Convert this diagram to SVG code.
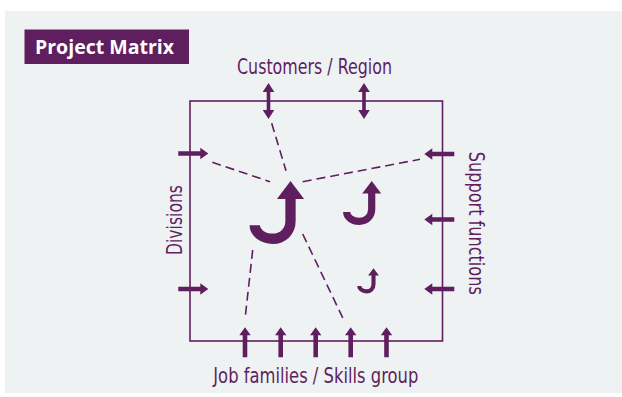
<svg xmlns="http://www.w3.org/2000/svg" xmlns:xlink="http://www.w3.org/1999/xlink" width="622" height="397" viewBox="0 0 622 397">
  <style>
    .ink { fill: #5f1f5f; }
    .frame { fill: none; stroke: #5f1f5f; stroke-width: 1.6; }
    .dash { fill: none; stroke: #5f1f5f; stroke-width: 1.6; stroke-dasharray: 9 5; }
    .label { font-family: "Liberation Sans Narrow", "DejaVu Sans Condensed", "Open Sans", "Noto Sans", sans-serif; font-size: 20.5px; fill: #5f1f5f; }
    .title { font-family: "Open Sans", "Noto Sans", "Liberation Sans", sans-serif; font-weight: bold; font-size: 20px; fill: #ffffff; }
    .jstem { fill: none; stroke: #5f1f5f; stroke-width: 7.2; stroke-linecap: butt; }
  </style>
  <defs>
    <!-- single arrow pointing right, tip at origin -->
    <path id="arrow" d="M-30,-2.3 H-8 V-5.7 L0,0 L-8,5.7 V2.3 H-30 Z"/>
    <!-- vertical double-headed arrow, centred on origin -->
    <path id="darrow" d="M0,-18 L5.8,-9 H1.8 V9 H5.8 L0,18 L-5.8,9 H-1.8 V-9 H-5.8 Z"/>
    <!-- J-shaped arrow, tip at origin -->
    <g id="jarrow">
      <path class="jstem" d="M0,11 V28 C0,35.5 -5.5,40.4 -12.5,40.4 C-19.5,40.4 -25,36 -25,31"/>
      <path class="ink" d="M0,0 L9.5,12.5 L-9.5,12.5 Z"/>
    </g>
  </defs>

  <!-- backdrop panel -->
  <rect x="5" y="11" width="617" height="382" fill="#eef2f3"/>

  <g id="title">
    <rect x="24.5" y="29.5" width="164.5" height="34.5" class="ink"/>
    <text class="title" x="35" y="54" textLength="139" lengthAdjust="spacingAndGlyphs">Project Matrix</text>
  </g>

  <g id="matrix">
    <rect x="190" y="101" width="252.5" height="240" class="frame"/>
  </g>

  <g id="connectors">
    <line class="dash" x1="271.7" y1="123.3" x2="286" y2="170.7"/>
    <line class="dash" x1="212.3" y1="162.3" x2="270" y2="181.7"/>
    <line class="dash" x1="302.7" y1="181.7" x2="420" y2="159.3"/>
    <line class="dash" x1="252.7" y1="250" x2="245" y2="319"/>
    <line class="dash" x1="302.7" y1="234" x2="343.3" y2="319"/>
  </g>

  <g id="customers-region">
    <use xlink:href="#darrow" class="ink" transform="translate(268.5,101)"/>
    <use xlink:href="#darrow" class="ink" transform="translate(364,101)"/>
    <text class="label" x="314.5" y="74" text-anchor="middle" textLength="155" lengthAdjust="spacingAndGlyphs">Customers / Region</text>
  </g>

  <g id="divisions">
    <use xlink:href="#arrow" class="ink" transform="translate(208.3,153.5)"/>
    <use xlink:href="#arrow" class="ink" transform="translate(208.3,289)"/>
    <text class="label" transform="translate(182,220) rotate(-90)" text-anchor="middle" textLength="70" lengthAdjust="spacingAndGlyphs">Divisions</text>
  </g>

  <g id="support-functions">
    <use xlink:href="#arrow" class="ink" transform="translate(424.3,154) rotate(180)"/>
    <use xlink:href="#arrow" class="ink" transform="translate(424.3,219.5) rotate(180)"/>
    <use xlink:href="#arrow" class="ink" transform="translate(424.3,289) rotate(180)"/>
    <text class="label" transform="translate(469,223.3) rotate(90)" text-anchor="middle" textLength="143" lengthAdjust="spacingAndGlyphs">Support functions</text>
  </g>

  <g id="job-families">
    <use xlink:href="#arrow" class="ink" transform="translate(245,327.3) rotate(-90)"/>
    <use xlink:href="#arrow" class="ink" transform="translate(280.7,327.3) rotate(-90)"/>
    <use xlink:href="#arrow" class="ink" transform="translate(315.7,327.3) rotate(-90)"/>
    <use xlink:href="#arrow" class="ink" transform="translate(350.7,327.3) rotate(-90)"/>
    <use xlink:href="#arrow" class="ink" transform="translate(386.5,327.3) rotate(-90)"/>
    <text class="label" x="315.8" y="383.3" text-anchor="middle" textLength="205" lengthAdjust="spacingAndGlyphs">Job families / Skills group</text>
  </g>

  <g id="project-large">
    <use xlink:href="#jarrow" transform="translate(290.5,181) scale(1.43)"/>
  </g>
  <g id="project-medium">
    <use xlink:href="#jarrow" transform="translate(371.7,181)"/>
  </g>
  <g id="project-small">
    <use xlink:href="#jarrow" transform="translate(373.5,268.3) scale(0.57)"/>
  </g>
</svg>
